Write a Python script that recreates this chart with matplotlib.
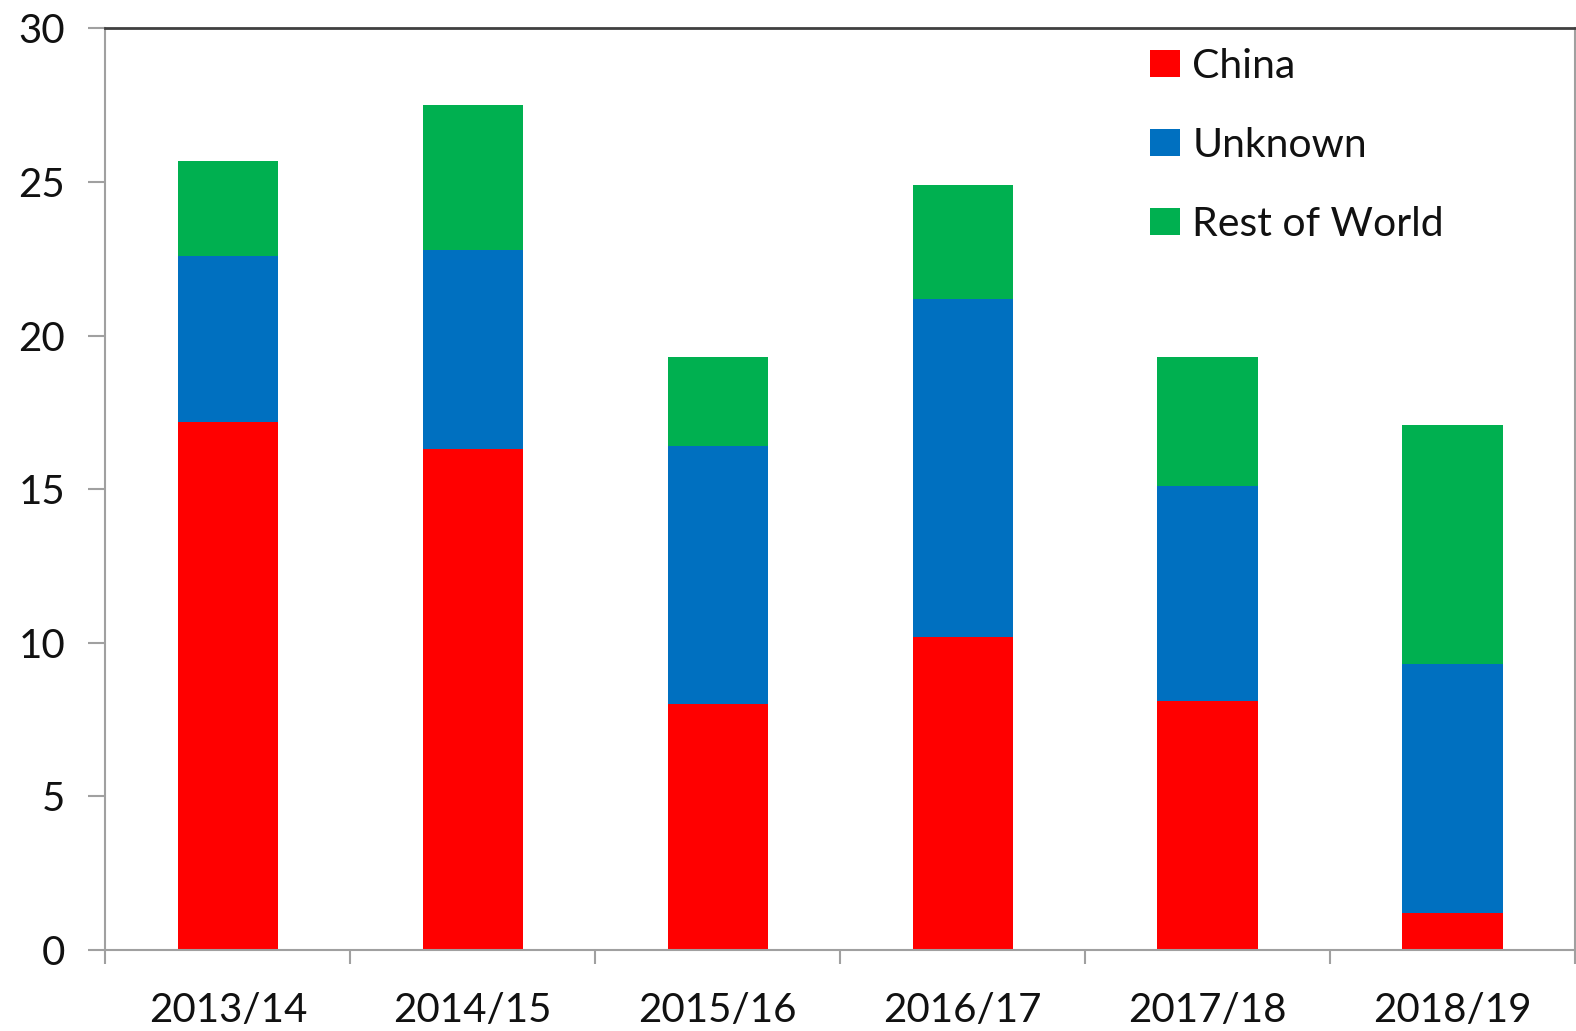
import matplotlib.pyplot as plt
import numpy as np

years = ["2013/14", "2014/15", "2015/16", "2016/17", "2017/18", "2018/19"]
china = [17.2, 16.3, 8.0, 10.2, 8.1, 1.2]
unknown = [5.4, 6.5, 8.4, 11.0, 7.0, 8.1]
rest_of_world = [3.1, 4.7, 2.9, 3.7, 4.2, 7.8]

plt.rcParams["font.family"] = ["Lato", "DejaVu Sans"]

fig = plt.figure(figsize=(15.76, 10.31), dpi=100)
ax = fig.add_axes([0.0669, 0.0786, 0.9325, 0.8938])

x = np.arange(len(years))
w = 0.41
china_arr = np.array(china)
unk_arr = np.array(unknown)
ax.bar(x, china, w, color="#FF0000", label="China")
ax.bar(x, unknown, w, bottom=china_arr, color="#0070C0", label="Unknown")
ax.bar(x, rest_of_world, w, bottom=china_arr + unk_arr, color="#00B050", label="Rest of World")

ax.set_xlim(-0.5, len(years) - 0.5)
ax.set_ylim(0, 30)
ax.set_yticks(range(0, 31, 5))

# category boundaries get the tick marks, labels sit on the centres
ax.set_xticks(np.arange(-0.5, len(years), 1.0))
ax.set_xticklabels([])
ax.set_xticks(x, minor=True)
ax.set_xticklabels(years, minor=True)
ax.tick_params(axis="x", which="major", length=10, width=1.5, color="#a0a0a0")
ax.tick_params(axis="x", which="minor", length=0, pad=30, labelsize=29, labelcolor="#111111")
ax.tick_params(axis="y", length=12, width=1.5, color="#a0a0a0", pad=17, labelsize=29,
               labelcolor="#111111")

for side in ["left", "bottom", "right"]:
    ax.spines[side].set_color("#a0a0a0")
    ax.spines[side].set_linewidth(1.5)
ax.spines["top"].set_color("#404040")
ax.spines["top"].set_linewidth(2)

leg = ax.legend(loc="upper left", bbox_to_anchor=(0.711, 0.979), frameon=False, fontsize=29.5,
                borderaxespad=0, borderpad=0,
                handlelength=0.72, handleheight=0.65, handletextpad=0.3, labelspacing=1.03,
                labelcolor="#111111")

fig.savefig("out.png", dpi=100)
